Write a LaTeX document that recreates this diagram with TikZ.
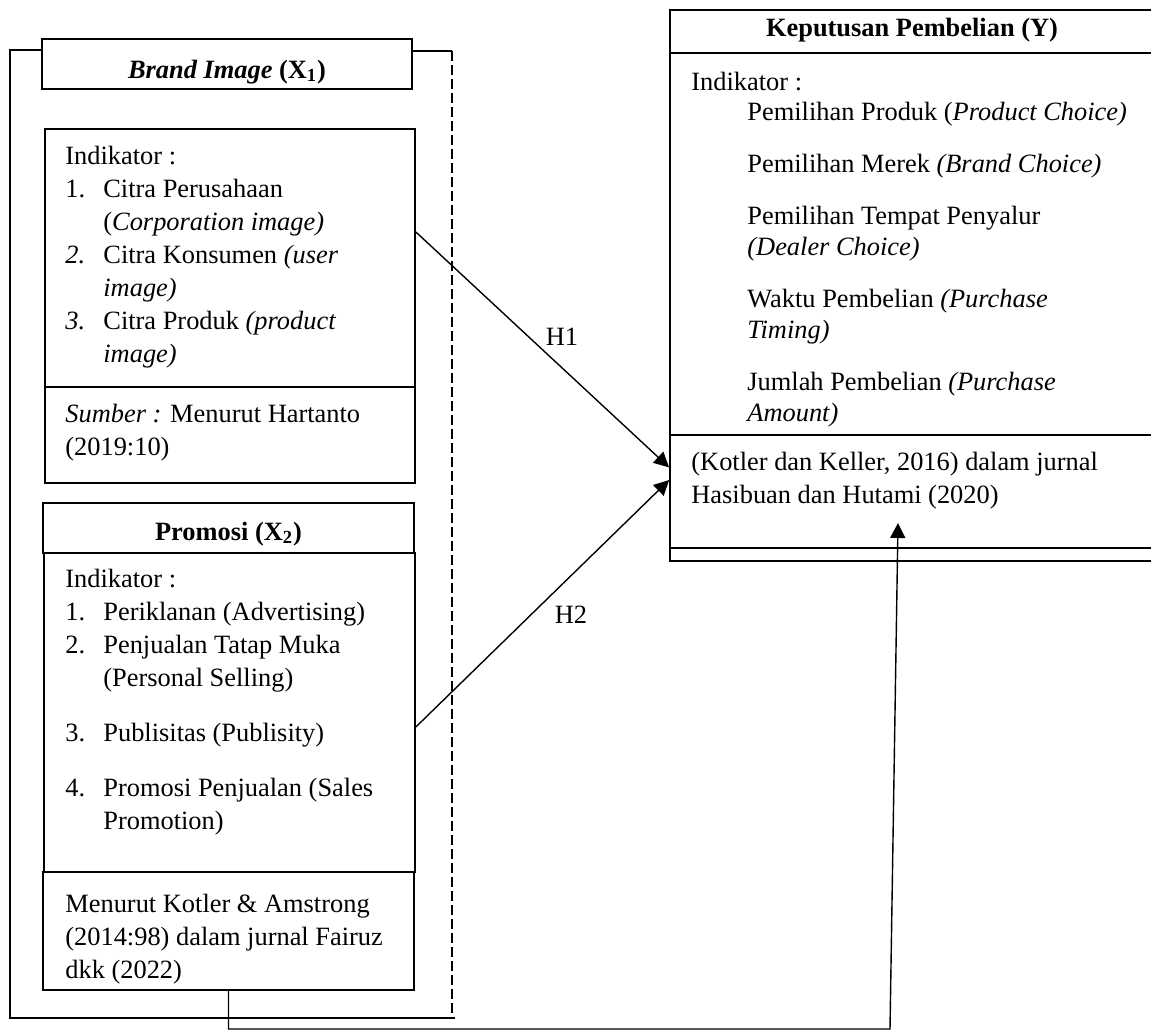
\documentclass[tikz,border=0pt]{standalone}
\usepackage{fontspec}
\setmainfont{Liberation Serif}
\usetikzlibrary{arrows.meta,positioning,calc}
\newcommand{\itmno}[1]{\makebox[19pt][l]{#1}}
\newcommand{\itmskip}{\hspace*{19pt}}

\begin{document}
\begin{tikzpicture}[
    x=0.5pt, y=-0.5pt,
    font=\fontsize{13.2}{16.5}\selectfont,
    box/.style={rectangle, draw, line width=0.9pt, inner sep=0pt},
    txt/.style={inner sep=0pt, align=left, anchor=north west},
    head/.style={inner sep=0pt, anchor=base,
      font=\fontsize{13.2}{16.5}\selectfont\bfseries},
    frame/.style={line width=0.6pt},
    arr/.style={-{Triangle[length=7.5pt,width=7.5pt]}, line width=0.7pt},
  ]
  \useasboundingbox (0,0) rectangle (1151,1033);
  \clip (0,0) rectangle (1151,1033);

  %% ── Brand Image (X1) ──────────────────────────────────────
  \node[box, minimum width=185pt, minimum height=25pt] (bititle) at (227,64) {};
  \node[head] (bihead) at (227,78) {\textit{Brand Image} (X\textsubscript{1})};
  \node[box, minimum width=185pt, minimum height=129pt] (biind) at (230,258) {};
  \node[box, minimum width=185pt, minimum height=48pt]  (bisrc) at (230,435) {};
  \node[txt] (bilist) at (65,146) {Indikator :\\
    \itmno{1.}Citra Perusahaan\\
    \itmskip(\textit{Corporation image)}\\
    \itmno{\textit{2.}}Citra Konsumen \textit{(user}\\
    \itmskip\textit{image)}\\
    \itmno{\textit{3.}}Citra Produk \textit{(product}\\
    \itmskip\textit{image)}};
  \node[txt] (bisumber) at (65,404) {\textit{Sumber :} Menurut Hartanto\\(2019:10)};

  %% ── Promosi (X2) ──────────────────────────────────────────
  \node[box, minimum width=185.5pt, minimum height=25pt] (p2title) at (228.5,528) {};
  \node[head] (p2head) at (228.5,540) {Promosi (X\textsubscript{2})};
  \node[box, minimum width=185.5pt, minimum height=159.5pt] (p2ind) at (229.5,712.5) {};
  \node[box, minimum width=185.5pt, minimum height=59pt] (p2src) at (228.5,931) {};
  \node[txt] (p2list) at (65,569) {Indikator :\\
    \itmno{1.}Periklanan (Advertising)\\
    \itmno{2.}Penjualan Tatap Muka\\
    \itmskip(Personal Selling)\\[11pt]
    \itmno{3.}Publisitas (Publisity)\\[11pt]
    \itmno{4.}Promosi Penjualan (Sales\\
    \itmskip Promotion)};
  \node[txt] (p2sumber) at (65,894) {Menurut Kotler \& Amstrong\\
    (2014:98) dalam jurnal Fairuz\\dkk (2022)};

  %% ── Keputusan Pembelian (Y) ───────────────────────────────
  \node[box, minimum width=250pt, minimum height=21.5pt] (ytitle) at (920,31.5) {};
  \node[head] (yhead) at (912,36) {Keputusan Pembelian (Y)};
  \node[box, minimum width=250pt, minimum height=191pt] (yind) at (920,244) {};
  \node[box, minimum width=250pt, minimum height=56.5pt] (ysrc) at (920,491.5) {};
  \node[box, minimum width=250pt, minimum height=6.5pt] (yend) at (920,554.5) {};
  \node[txt] (yindik) at (691,72) {Indikator :};
  \node[txt, font=\fontsize{13.2}{15.5}\selectfont] (ylist) at (747,102) {%
    Pemilihan Produk (\textit{Product Choice)}\\[10.5pt]
    Pemilihan Merek \textit{(Brand Choice)}\\[10.5pt]
    Pemilihan Tempat Penyalur\\
    \textit{(Dealer Choice)}\\[10.5pt]
    Waktu Pembelian \textit{(Purchase}\\
    \textit{Timing)}\\[10.5pt]
    Jumlah Pembelian \textit{(Purchase}\\
    \textit{Amount)}};
  \node[txt] (ysumber) at (691,452) {(Kotler dan Keller, 2016) dalam jurnal\\
    Hasibuan dan Hutami (2020)};

  %% ── Outer frame round X1 and X2 ───────────────────────────
  \draw[frame] (bititle.west |- 0,50) -- (10,50) -- (10,1018) -- (455,1018);
  \draw[frame] (bititle.east |- 0,51) -- (452,51);
  \draw[frame, dash pattern=on 5pt off 2pt] (452,51) -- (452,1018);

  %% ── Arrows: X1, X2 -> Y ───────────────────────────────────
  \draw[arr] ($(biind.north east)!0.4!(biind.south east)$)
          -- ($(ysrc.north west)!0.29!(ysrc.south west)$);
  \draw[arr] ($(p2ind.north east)!0.545!(p2ind.south east)$)
          -- ($(ysrc.north west)!0.4!(ysrc.south west)$);
  \node[anchor=base] (h1) at (562,345) {H1};
  \node[anchor=base] (h2) at (571,623) {H2};

  \coordinate (ybend) at (890,1029);
  \coordinate (ytip)  at (898,523);
  \draw[arr] (p2src.south) |- (ybend) -- (ytip);

\end{tikzpicture}
\end{document}
